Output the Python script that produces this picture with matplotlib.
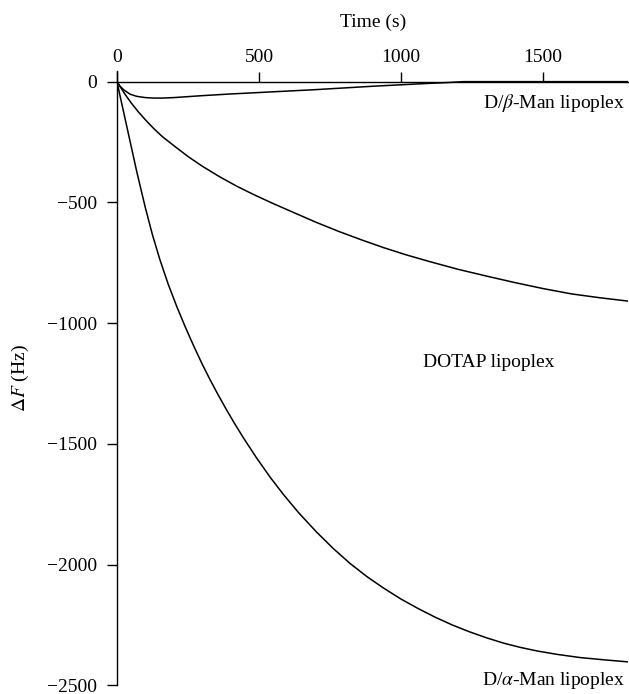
import matplotlib
matplotlib.use("Agg")
import matplotlib.pyplot as plt

# ---- data (time in s, frequency shift in Hz) ----
t_beta = [0, 10, 25, 46, 70, 100, 130, 160, 200, 250, 300, 400, 500, 600, 700, 800, 900, 1000, 1100, 1160, 1220, 1400, 1600, 1800]
f_beta = [0, -18, -35, -52, -61, -66, -68, -68, -66, -62, -58, -51, -45, -39, -33, -26, -19, -13, -7, -4, 0, 0, 0, 0]

t_dotap = [0, 15, 30, 50, 75, 100, 130, 160, 200, 250, 300, 360, 420, 480, 550, 620, 700, 780, 860, 940,
           1020, 1100, 1200, 1300, 1400, 1500, 1600, 1700, 1800]
f_dotap = [0, -28, -55, -88, -125, -158, -195, -228, -265, -310, -350, -393, -432, -467, -505, -541, -582, -620, -655, -688,
           -718, -745, -777, -805, -832, -857, -879, -895, -909]

t_alpha = [0, 10, 25, 46, 70, 100, 125, 151, 180, 210, 240, 269, 300, 327, 356, 386, 415, 445, 490, 539, 586, 640, 703,
           760, 820, 880, 938, 1000, 1060, 1120, 1180, 1240, 1300, 1360, 1420, 1480, 1550, 1630, 1720, 1800]
f_alpha = [0, -55, -135, -247, -375, -523, -635, -737, -838, -930, -1015, -1092, -1170, -1233, -1297, -1360, -1418, -1475,
           -1556, -1638, -1710, -1786, -1866, -1932, -1995, -2050, -2097, -2143, -2182, -2218, -2250, -2278, -2303, -2325,
           -2343, -2358, -2372, -2385, -2395, -2403]

x_ticks = [0, 500, 1000, 1500]
y_ticks = [0, -500, -1000, -1500, -2000, -2500]

plt.rcParams['font.family'] = ['Liberation Serif', 'DejaVu Serif']
plt.rcParams['mathtext.fontset'] = 'stix'
plt.rcParams['font.size'] = 14
plt.rcParams['axes.unicode_minus'] = True

fig = plt.figure(figsize=(6.29, 6.94), dpi=100)
ax = fig.add_axes([0.186, 0.0125, 0.813, 0.8855])

lw = 1.1
ax.plot(t_beta, f_beta, color='black', lw=lw)
ax.plot(t_dotap, f_dotap, color='black', lw=lw)
ax.plot(t_alpha, f_alpha, color='black', lw=lw)

ax.set_xlim(0, 1800)
ax.set_ylim(-2500, 45)

# axes through the origin: x axis on top at y=0
ax.spines['bottom'].set_visible(False)
ax.spines['right'].set_visible(False)
ax.spines['top'].set_position(('data', 0))
ax.spines['top'].set_linewidth(1.0)
ax.spines['left'].set_linewidth(1.0)
ax.xaxis.set_ticks_position('top')
ax.xaxis.set_label_position('top')

ax.set_xticks(x_ticks)
ax.set_yticks(y_ticks)
ax.set_xticklabels([str(v) for v in x_ticks])
ax.set_yticklabels(['0' if v == 0 else '\u2212' + str(-v) for v in y_ticks])
ax.tick_params(axis='x', direction='out', length=7.5, width=1.0, pad=4)
ax.tick_params(axis='y', direction='out', length=7.5, width=1.0, pad=7)

ax.set_xlabel('Time (s)', labelpad=16)
ax.set_ylabel(r'$\Delta F$ (Hz)', labelpad=11)

# curve labels
ax.text(1790, -90, r'D/$\beta$-Man lipoplex', ha='right', va='center')
ax.text(1310, -1165, 'DOTAP lipoplex', ha='center', va='center')
ax.text(1790, -2480, r'D/$\alpha$-Man lipoplex', ha='right', va='center')

fig.savefig('out.png', dpi=100)
